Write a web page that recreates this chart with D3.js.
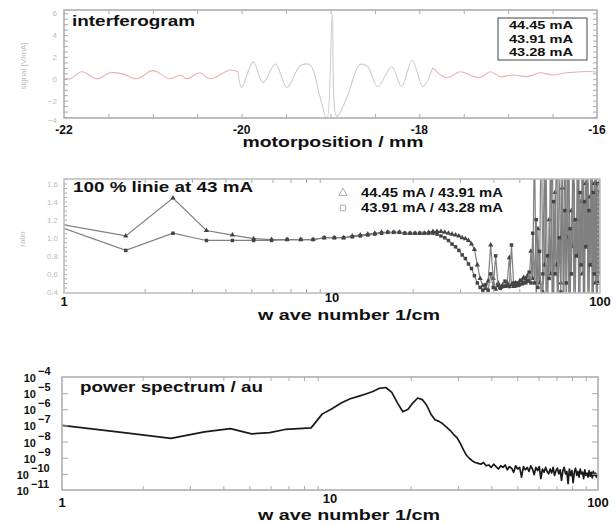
<!DOCTYPE html>
<html>
<head>
<meta charset="utf-8">
<script src="https://cdn.jsdelivr.net/npm/d3@7"></script>
<style>
  body { margin: 0; background: #fff; }
  text { font-family: "Liberation Sans", Arial, sans-serif; }
</style>
</head>
<body>
<script>

// ---------- data: interferogram (motorposition mm / signal) ----------
const wingLeftX  = [-22.00, -21.93, -21.80, -21.63, -21.48, -21.34, -21.18, -21.00, -20.81, -20.69, -20.62, -20.47, -20.36, -20.13, -20.04];
const wingLeftY  = [0.05, 0.00, 0.65, 0.00, 0.55, 0.45, 0.00, 0.75, 0.00, 0.35, 0.00, 0.55, 0.00, 0.80, 0.65];
const burstX     = [-20.04, -20.00, -19.87, -19.76, -19.62, -19.49, -19.34, -19.23, -19.12, -19.04, -18.98, -18.93, -18.81, -18.67, -18.58, -18.47, -18.31, -18.20, -18.08, -17.96, -17.85];
const burstY     = [0.65, -0.80, 1.55, -0.35, 1.35, -0.80, 1.20, 1.25, -1.60, -3.70, 5.90, -3.45, -1.60, 1.30, 1.10, -0.70, 1.10, -0.70, 1.70, -0.70, 1.00];
const wingRightX = [-17.85, -17.69, -17.54, -17.43, -17.32, -17.20, -17.09, -16.95, -16.79, -16.64, -16.50, -16.34, -16.19, -16.04, -16.00];
const wingRightY = [1.00, 0.10, 0.65, 0.35, 0.10, 0.65, 0.20, 0.35, 0.20, 0.55, 0.35, 0.55, 0.65, 0.65, 0.60];
const currents = ["44.45 mA", "43.91 mA", "43.28 mA"];

// ---------- data: wave number grid (1/cm) ----------
const waveNumber = [
  0.85, 1.70, 2.55, 3.40, 4.25, 5.10, 5.95, 6.80, 7.65, 8.50,
  9.35, 10.20, 11.05, 11.90, 12.75, 13.60, 14.45, 15.30, 16.15, 17.00,
  17.85, 18.70, 19.55, 20.40, 21.25, 22.10, 22.95, 23.80, 24.65, 25.50,
  26.35, 27.20, 28.05, 28.90, 29.75, 30.60, 31.45, 32.30, 33.15, 34.00,
  34.85, 35.70, 36.55, 37.40, 38.25, 39.10, 39.95, 40.80, 41.65, 42.50,
  43.35, 44.20, 45.05, 45.90, 46.75, 47.60, 48.45, 49.30, 50.15, 51.00,
  51.85, 52.70, 53.55, 54.40, 55.25, 56.10, 56.95, 57.80, 58.65, 59.50,
  60.35, 61.20, 62.05, 62.90, 63.75, 64.60, 65.45, 66.30, 67.15, 68.00,
  68.85, 69.70, 70.55, 71.40, 72.25, 73.10, 73.95, 74.80, 75.65, 76.50,
  77.35, 78.20, 79.05, 79.90, 80.75, 81.60, 82.45, 83.30, 84.15, 85.00,
  85.85, 86.70, 87.55, 88.40, 89.25, 90.10, 90.95, 91.80, 92.65, 93.50,
  94.35, 95.20, 96.05, 96.90, 97.75, 98.60, 99.45];

// 100 % line ratios
const ratioA = [ // 44.45 mA / 43.91 mA
  1.18, 1.02, 1.44, 1.08, 1.03, 0.99, 0.98, 0.98, 0.98, 0.98,
  1.00, 1.00, 1.00, 1.02, 1.03, 1.04, 1.05, 1.06, 1.06, 1.06,
  1.06, 1.05, 1.05, 1.05, 1.05, 1.05, 1.06, 1.07, 1.07, 1.07,
  1.06, 1.05, 1.04, 1.03, 1.02, 1.00, 0.99, 0.97, 0.93, 0.87,
  0.70, 0.55, 0.47, 0.44, 0.52, 0.92, 0.55, 0.43, 0.50, 0.45,
  0.48, 0.46, 0.50, 0.78, 0.48, 0.46, 0.50, 0.47, 0.52, 0.49,
  0.56, 0.50, 0.58, 0.52, 0.85, 0.55, 2.10, 0.30, 1.10, 0.50,
  2.50, 0.40, 0.70, 1.90, 0.20, 1.20, 0.60, 2.40, 0.30, 1.50,
  0.70, 0.10, 2.20, 0.50, 1.55, 0.35, 2.60, 0.20, 1.00, 2.30,
  0.10, 1.30, 0.90, 2.50, 0.20, 1.20, 0.80, 1.90, 0.30, 1.40,
  0.60, 2.40, 0.20, 1.60, 0.90, 2.70, 0.10, 1.45, 0.70, 2.30,
  0.20, 1.60, 0.50, 2.40, 0.30, 1.50, 0.60];
const ratioB = [ // 43.91 mA / 43.28 mA
  1.18, 0.86, 1.05, 0.97, 0.97, 0.97, 0.97, 0.98, 0.98, 0.98,
  1.00, 1.00, 1.00, 1.01, 1.02, 1.03, 1.04, 1.05, 1.06, 1.06,
  1.06, 1.05, 1.05, 1.05, 1.05, 1.05, 1.05, 1.05, 1.04, 1.02,
  1.00, 0.97, 0.93, 0.90, 0.86, 0.81, 0.77, 0.71, 0.66, 0.58,
  0.50, 0.45, 0.42, 0.48, 0.42, 0.60, 0.45, 0.80, 0.47, 0.44,
  0.46, 0.52, 0.47, 0.46, 0.92, 0.50, 0.47, 0.50, 0.48, 0.53,
  0.50, 0.55, 0.52, 0.62, 0.50, 1.05, 0.50, 1.20, 0.45, 0.85,
  0.30, 0.60, 1.90, 0.35, 0.80, 0.55, 2.20, 0.20, 1.40, 0.60,
  2.50, 0.30, 1.00, 0.40, 2.00, 0.10, 1.30, 0.50, 2.40, 0.20,
  1.10, 0.60, 1.80, 0.30, 1.20, 0.80, 2.30, 0.10, 1.50, 0.70,
  2.10, 0.30, 1.40, 0.90, 2.60, 0.20, 1.30, 0.70, 2.40, 0.00,
  1.50, 0.60, 2.20, 0.30, 1.60, 0.50, 2.00];
const ratioNames = ["44.45 mA / 43.91 mA", "43.91 mA / 43.28 mA"];

// power spectrum, log10 of value (au)
const powerExp = [
  -6.85, -7.45, -7.80, -7.40, -7.20, -7.52, -7.45, -7.25, -7.20, -7.15,
  -6.30, -5.95, -5.60, -5.35, -5.20, -5.05, -4.90, -4.70, -4.65, -4.95,
  -5.60, -6.15, -6.00, -5.60, -5.30, -5.40, -5.75, -6.30, -6.65, -6.75,
  -6.90, -7.10, -7.30, -7.55, -7.75, -8.10, -8.50, -8.85, -9.05, -9.20,
  -9.30, -9.35, -9.40, -9.30, -9.50, -9.45, -9.60, -9.40, -9.55, -9.70,
  -9.50, -9.60, -9.45, -9.75, -9.55, -9.65, -9.90, -9.50, -9.70, -9.60,
  -10.20, -9.55, -9.75, -9.60, -9.85, -9.50, -9.70, -10.05, -9.60, -9.80,
  -9.55, -10.30, -9.70, -9.90, -9.60, -9.85, -10.00, -9.70, -9.95, -9.60,
  -10.10, -9.80, -9.65, -10.00, -9.75, -10.40, -9.80, -9.60, -10.00, -9.85,
  -10.60, -9.70, -10.10, -9.80, -10.55, -9.90, -9.65, -10.10, -9.85, -10.20,
  -9.70, -10.00, -9.90, -10.30, -9.75, -10.10, -9.95, -10.20, -9.80, -10.15,
  -9.90, -10.25, -9.85, -10.10, -9.95, -10.20, -10.00];

const powerTicks = [-4, -5, -6, -7, -8, -9, -10, -11];
const logTicks = [1, 10, 100];

// ---------- setup ----------
const width = 616, height = 524;
const svg = d3.select("body").append("svg")
  .attr("width", width).attr("height", height)
  .style("background", "#fff");

function txt(str, x, y, size, opts = {}) {
  const t = svg.append("text")
    .attr("x", x).attr("y", y)
    .attr("font-size", size)
    .attr("font-weight", opts.weight || "bold")
    .attr("fill", opts.color || "#111")
    .attr("text-anchor", opts.anchor || "start")
    .text(str);
  if (opts.len) t.attr("textLength", opts.len).attr("lengthAdjust", "spacingAndGlyphs");
  if (opts.rotate) t.attr("transform", `rotate(-90, ${x}, ${y})`);
  return t;
}

function frame(p, color) {
  svg.append("rect")
    .attr("x", p.left).attr("y", p.top)
    .attr("width", p.right - p.left).attr("height", p.bottom - p.top)
    .attr("fill", "none").attr("stroke", color).attr("stroke-width", 1.5);
}

function ticks(axisFn, scale, values, size, transform) {
  const g = svg.append("g").attr("transform", transform)
    .call(axisFn(scale).tickValues(values).tickSize(-size).tickFormat(""));
  g.select(".domain").remove();
  g.selectAll("line").attr("stroke", "#aaa").attr("stroke-width", 1);
}

function clip(id, p) {
  svg.append("clipPath").attr("id", id).append("rect")
    .attr("x", p.left).attr("y", p.top)
    .attr("width", p.right - p.left).attr("height", p.bottom - p.top);
}

const minorLog = [2, 3, 4, 5, 6, 7, 8, 9, 20, 30, 40, 50, 60, 70, 80, 90];

// ================= panel 1: interferogram =================
const p1 = { left: 64, right: 597, top: 10, bottom: 118 };
const x1 = d3.scaleLinear().domain([-22, -16]).range([p1.left, p1.right]);
const y1 = d3.scaleLinear().domain([-4, 6.3]).range([122.5, p1.top]);
clip("c1", p1);

const line1 = d3.line().x(d => x1(d[0])).y(d => y1(d[1])).curve(d3.curveCatmullRom);
const g1 = svg.append("g").attr("clip-path", "url(#c1)");
g1.append("path").attr("d", line1(d3.zip(burstX, burstY)))
  .attr("fill", "none").attr("stroke", "#cdcdcd").attr("stroke-width", 1.1);
g1.append("path").attr("d", line1(d3.zip(wingLeftX, wingLeftY)))
  .attr("fill", "none").attr("stroke", "#eab0b0").attr("stroke-width", 1.1);
g1.append("path").attr("d", line1(d3.zip(wingRightX, wingRightY)))
  .attr("fill", "none").attr("stroke", "#eab0b0").attr("stroke-width", 1.1);

const y1Minor = d3.range(-3.5, 6.01, 0.5);
ticks(d3.axisLeft, y1, y1Minor, 4, `translate(${p1.left},0)`);
ticks(d3.axisRight, y1, y1Minor, 4, `translate(${p1.right},0)`);
const x1Minor = d3.range(-21.5, -16.2, 0.5);
ticks(d3.axisBottom, x1, x1Minor, 4, `translate(0,${p1.bottom})`);
ticks(d3.axisTop, x1, x1Minor, 4, `translate(0,${p1.top})`);
frame(p1, "#aaa");

[6, 4, 2, 0, -2, -4].forEach(v => {
  txt(v < 0 ? "\u2212" + (-v) : String(v), 57, Math.min(y1(v), 120) + 3, 8,
      { weight: "normal", color: "#bbb", anchor: "end" });
});
txt("signal [V/mA]", 26, 66, 8, { weight: "normal", color: "#bbb", anchor: "middle", rotate: true });

[-22, -20, -18, -16].forEach(v => txt(String(v), x1(v), 134, 12, { anchor: "middle" }));
txt("motorposition / mm", 333, 147, 14, { anchor: "middle", len: 181 });
txt("interferogram", 72, 26, 15, { len: 123 });

// legend box
svg.append("rect").attr("x", 498).attr("y", 18).attr("width", 89).attr("height", 42)
  .attr("fill", "#fff").attr("stroke", "#444").attr("stroke-width", 1);
currents.forEach((c, i) => txt(c, 541, 29 + i * 13.5, 11, { anchor: "middle", len: 64 }));

// ================= panel 2: 100 % line =================
const p2 = { left: 64, right: 600, top: 179, bottom: 293 };
const x2 = d3.scaleLog().domain([1, 100]).range([p2.left, p2.right]);
const y2 = d3.scaleLinear().domain([0.4, 1.65]).range([292, p2.top]);
clip("c2", p2);

const g2 = svg.append("g").attr("clip-path", "url(#c2)");
const line2 = d3.line().x(d => x2(d[0])).y(d => y2(d[1]));
[ratioA, ratioB].forEach((arr, si) => {
  const pts = d3.zip(waveNumber, arr);
  g2.append("path").attr("d", line2(pts))
    .attr("fill", "none").attr("stroke", "#808080").attr("stroke-width", 1.2);
  const sym = d3.symbol().type(si === 0 ? d3.symbolTriangle : d3.symbolSquare).size(12);
  g2.selectAll(null).data(pts).enter().append("path")
    .attr("d", sym)
    .attr("transform", d => `translate(${x2(d[0])},${y2(d[1])})`)
    .attr("fill", "#444");
});

ticks(d3.axisLeft, y2, d3.range(0.45, 1.651, 0.05), 3, `translate(${p2.left},0)`);
ticks(d3.axisRight, y2, d3.range(0.45, 1.651, 0.05), 3, `translate(${p2.right},0)`);
ticks(d3.axisBottom, x2, minorLog, 4, `translate(0,${p2.bottom})`);
ticks(d3.axisTop, x2, minorLog, 4, `translate(0,${p2.top})`);
frame(p2, "#bbb");

[1.6, 1.4, 1.2, 1.0, 0.8, 0.6, 0.4].forEach(v => {
  txt(v.toFixed(1), 58, y2(v) + 3, 8, { weight: "normal", color: "#bbb", anchor: "end" });
});
txt("ratio", 25, 239, 8, { weight: "normal", color: "#bbb", anchor: "middle", rotate: true });

txt("1", x2(1), 306, 13, { anchor: "middle" });
txt("10", x2(10), 302, 13, { anchor: "middle" });
txt("100", x2(100), 306, 13, { anchor: "middle" });
txt("w ave number  1/cm", 349, 320, 14, { anchor: "middle", len: 182 });
txt("100 % linie at 43 mA", 73, 192, 15, { len: 180 });

// legend
svg.append("path").attr("d", d3.symbol().type(d3.symbolTriangle).size(30))
  .attr("transform", "translate(343,193)").attr("fill", "none").attr("stroke", "#aaa");
svg.append("path").attr("d", d3.symbol().type(d3.symbolSquare).size(30))
  .attr("transform", "translate(343,208)").attr("fill", "none").attr("stroke", "#aaa");
ratioNames.forEach((n, i) => txt(n, 361, 197 + i * 15, 12, { len: 142 }));

// ================= panel 3: power spectrum =================
const p3 = { left: 62, right: 598, top: 377, bottom: 490 };
const x3 = d3.scaleLog().domain([1, 100]).range([p3.left, p3.right]);
const y3 = d3.scaleLog().domain([1e-11, 1e-4]).range([p3.bottom, p3.top]);
clip("c3", p3);

const line3 = d3.line().x(d => x3(d[0])).y(d => y3(Math.pow(10, d[1])));
svg.append("g").attr("clip-path", "url(#c3)")
  .append("path").attr("d", line3(d3.zip(waveNumber, powerExp)))
  .attr("fill", "none").attr("stroke", "#1a1a1a").attr("stroke-width", 1.7)
  .attr("stroke-linejoin", "round");

const decades = powerTicks.map(e => Math.pow(10, e));
ticks(d3.axisLeft, y3, decades.slice(1, -1), 6, `translate(${p3.left},0)`);
ticks(d3.axisRight, y3, decades.slice(1, -1), 6, `translate(${p3.right},0)`);
ticks(d3.axisBottom, x3, minorLog, 4, `translate(0,${p3.bottom})`);
ticks(d3.axisTop, x3, minorLog, 4, `translate(0,${p3.top})`);
frame(p3, "#aaa");

powerTicks.forEach(e => {
  const yy = y3(Math.pow(10, e));
  const xx = e <= -10 ? 29 : 36;
  txt("10", xx, yy + 5, 11, { anchor: "end" });
  txt("\u2212" + (-e), xx + 2, yy - 2, 11, { anchor: "start" });
});

txt("1", x3(1), 507, 13, { anchor: "middle" });
txt("10", x3(10), 503, 13, { anchor: "middle" });
txt("100", x3(100), 507, 13, { anchor: "middle" });
txt("w ave number  1/cm", 349, 520, 14, { anchor: "middle", len: 182 });
txt("power spectrum / au", 80, 392, 15, { len: 183 });

</script>
</body>
</html>
